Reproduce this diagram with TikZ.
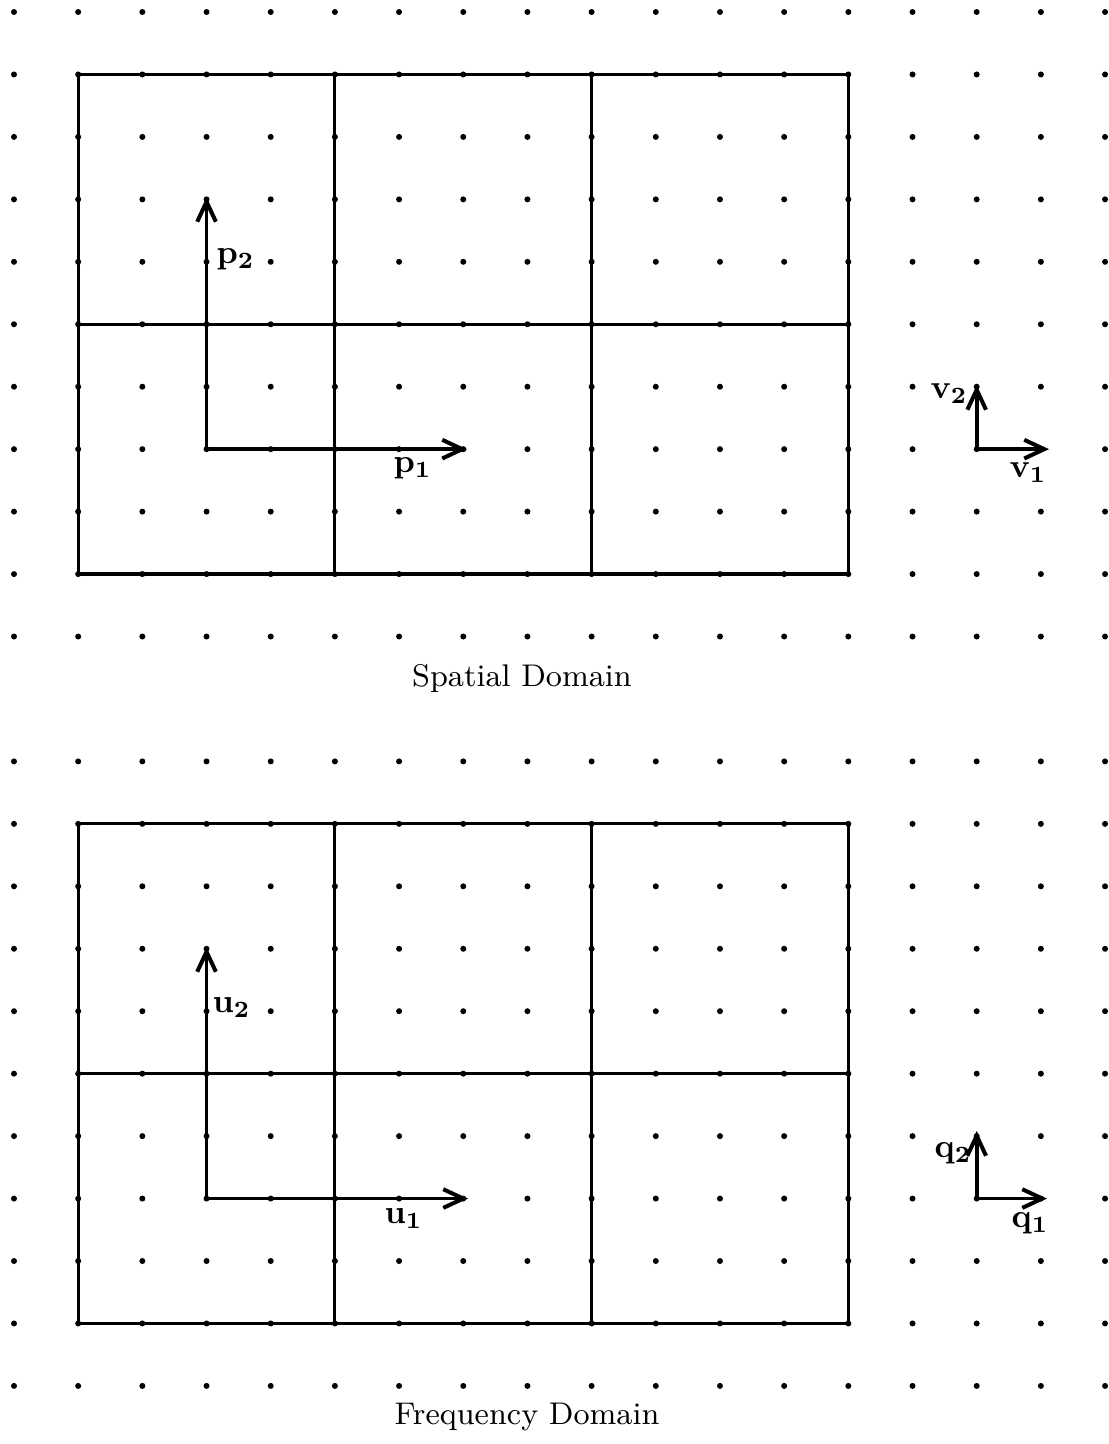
\documentclass[tikz,border=0pt]{standalone}
\usetikzlibrary{arrows.meta}
\begin{document}
\begin{tikzpicture}[x=0.3pt,y=-0.3pt,
  frame/.style={line width=0.95pt},
  axis/.style={line width=1.1pt,-{Straight Barb[length=6pt,width=5.6pt,line width=1.2pt]}},
  lab/.style={anchor=base west,inner sep=0pt,font=\fontsize{10.4}{12}\selectfont\boldmath},
  captext/.style={anchor=base,inner sep=0pt,font=\fontsize{9.4}{11}\selectfont}]
\useasboundingbox (0,0) rectangle (1109,1444);
% dot grid
\foreach \i in {0,...,17}{
  \foreach \k in {0,...,10}{\fill ({14+64.18*\i},{12+62.45*\k}) circle (3);}
  \foreach \k in {12,...,22}{\fill ({14+64.18*\i},{12+62.45*\k}) circle (3);}
}
% spatial domain frame
\draw[frame] (78.18,74.45) rectangle (848.34,574.05);
\draw[frame] (334.9,74.45) -- (334.9,574.05);
\draw[frame] (591.62,74.45) -- (591.62,574.05);
\draw[frame] (78.18,324.25) -- (848.34,324.25);
% frequency domain frame
\draw[frame] (78.18,823.85) rectangle (848.34,1323.45);
\draw[frame] (334.9,823.85) -- (334.9,1323.45);
\draw[frame] (591.62,823.85) -- (591.62,1323.45);
\draw[frame] (78.18,1073.65) -- (848.34,1073.65);
% axes coordinates
\coordinate (po) at (206.54,449.15);
\coordinate (p2) at (206.54,197);
\coordinate (p1) at (467,449.15);
\coordinate (vo) at (976.7,449.15);
\coordinate (v2) at (976.7,385);
\coordinate (v1) at (1049,449.15);
\coordinate (uo) at (206.54,1198.55);
\coordinate (u2) at (206.54,947);
\coordinate (u1) at (468,1198.55);
\coordinate (qo) at (976.7,1198.55);
\coordinate (q2) at (976.7,1131);
\coordinate (q1) at (1047,1198.55);
\draw[axis] (po) -- (p2);
\draw[axis] (po) -- (p1);
\draw[axis] (vo) -- (v2);
\draw[axis] (vo) -- (v1);
\draw[axis] (uo) -- (u2);
\draw[axis] (uo) -- (u1);
\draw[axis] (qo) -- (q2);
\draw[axis] (qo) -- (q1);
% labels
\node[lab] (lp2) at (216,263) {$\mathbf{p}_2$};
\node[lab] (lp1) at (393,472) {$\mathbf{p}_1$};
\node[lab] (lv2) at (930,398) {$\mathbf{v}_2$};
\node[lab] (lv1) at (1009,477) {$\mathbf{v}_1$};
\node[lab] (lu2) at (212,1012) {$\mathbf{u}_2$};
\node[lab] (lu1) at (384,1223) {$\mathbf{u}_1$};
\node[lab] (lq2) at (934,1157) {$\mathbf{q}_2$};
\node[lab] (lq1) at (1011,1227) {$\mathbf{q}_1$};
% captions
\node[captext] (spatial) at (522,686) {Spatial Domain};
\node[captext] (freq) at (527,1424) {Frequency Domain};
\end{tikzpicture}
\end{document}
